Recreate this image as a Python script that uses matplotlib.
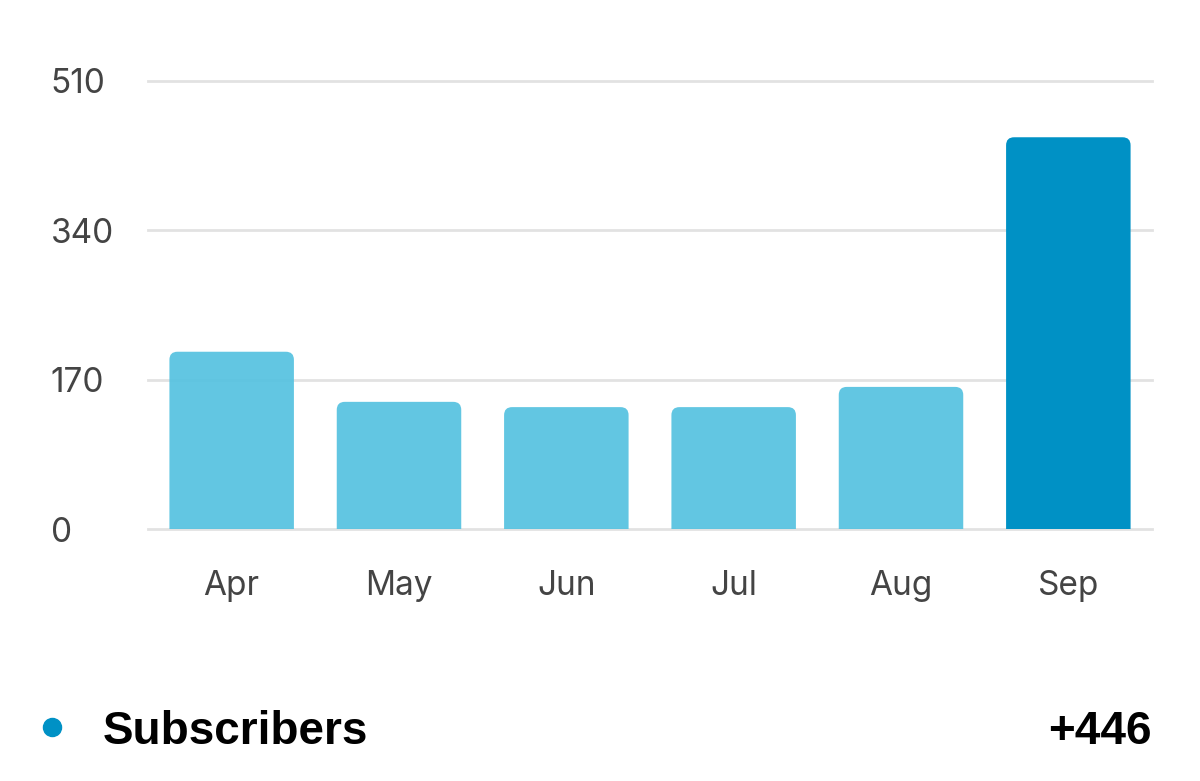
import matplotlib
matplotlib.use("Agg")
import matplotlib.pyplot as plt
from matplotlib.patches import FancyBboxPatch
from matplotlib.lines import Line2D

# Datos del gráfico
months = ["Apr", "May", "Jun", "Jul", "Aug", "Sep"]
subscribers = [202, 145, 139, 139, 162, 446]
y_ticks = [0, 170, 340, 510]
legend_label = "Subscribers"
total_label = "+446"

light_blue = "#55c2e0"
dark_blue = "#0091c5"
W, H = 1200, 781

fig = plt.figure(figsize=(W / 100, H / 100), dpi=100)
ax = fig.add_axes([148 / W, 1 - 529.3 / H, 1004 / W, 448.3 / H])

bars = ax.bar(range(len(months)), subscribers, width=0.744)
ax.set_xlim(-0.5, len(months) - 0.5)
ax.set_ylim(0, y_ticks[-1])

# Barras con esquinas superiores redondeadas
px_x = ax.transData.transform((1, 0))[0] - ax.transData.transform((0, 0))[0]
px_y = ax.transData.transform((0, 1))[1] - ax.transData.transform((0, 0))[1]
rx, ry = 8 / px_x, 8 / px_y
for i, rect in enumerate(bars):
    rect.set_visible(False)
    last = i == len(bars) - 1
    patch = FancyBboxPatch(
        (rect.get_x(), -ry), rect.get_width(), rect.get_height() + ry,
        boxstyle=f"round,pad=0,rounding_size={rx}",
        mutation_aspect=ry / rx,
        facecolor=dark_blue if last else light_blue,
        alpha=1.0 if last else 0.92,
        edgecolor="none", zorder=2)
    ax.add_patch(patch)

# Ejes y cuadrícula
for s in ax.spines.values():
    s.set_visible(False)
ax.set_axisbelow(True)
ax.yaxis.grid(True, color="#e2e2e2", linewidth=2)
for gl in ax.get_ygridlines():
    gl.set_clip_on(False)

ax.set_yticks(y_ticks)
ax.set_xticks(range(len(months)))
ax.set_xticklabels(months)
ax.tick_params(axis="y", length=0, pad=70, labelsize=24, labelcolor="#444444")
ax.tick_params(axis="x", length=0, pad=29, labelsize=24, labelcolor="#444444")
for t in ax.get_yticklabels() + ax.get_xticklabels():
    t.set_family(["Inter", "DejaVu Sans"])
for t in ax.get_yticklabels():
    t.set_horizontalalignment("left")

# Leyenda inferior
fig.add_artist(Line2D([52 / W], [1 - 727 / H], marker="o", markersize=13,
                      color=dark_blue, transform=fig.transFigure))
fig.text(103 / W, 1 - 744 / H, legend_label, fontsize=33, fontweight="bold",
         family=["Liberation Sans", "DejaVu Sans"], va="baseline", ha="left")
fig.text(1152 / W, 1 - 744 / H, total_label, fontsize=33, fontweight="bold",
         family=["Liberation Sans", "DejaVu Sans"], va="baseline", ha="right")

fig.savefig("out.png", dpi=100)
